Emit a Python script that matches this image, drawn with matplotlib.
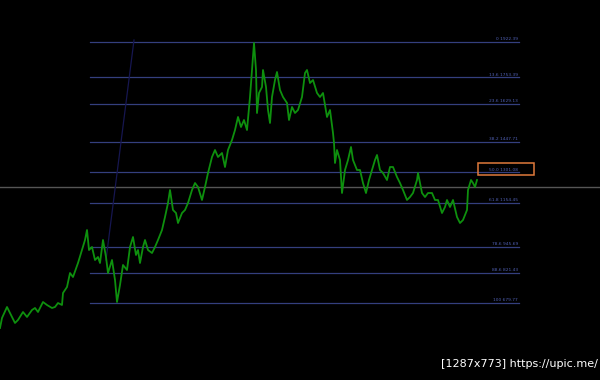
import matplotlib
matplotlib.use("Agg")
import matplotlib.pyplot as plt
from matplotlib.patches import Rectangle

# price series (bar index, close)
bars = [0, 2, 7, 10, 15, 18, 23, 27, 32, 35, 38, 43, 47, 52, 55, 58, 62, 63, 67, 70,
        73, 78, 82, 85, 87, 89, 92, 95, 98, 100, 103, 106, 108, 112, 115, 117, 120, 123, 127, 130,
        133, 136, 138, 140, 143, 145, 148, 152, 155, 158, 162, 165, 168, 170, 173, 176, 178, 182, 185, 188,
        192, 195, 198, 202, 205, 208, 212, 215, 218, 222, 225, 228, 232, 235, 238, 241, 244, 247, 250, 253,
        254, 256, 257, 259, 262, 263, 266, 268, 270, 272, 275, 277, 280, 283, 287, 289, 292, 295, 298, 302,
        305, 307, 310, 313, 317, 320, 323, 327, 330, 333, 334, 335, 337, 340, 342, 345, 348, 351, 353, 357,
        360, 363, 366, 369, 372, 375, 377, 380, 383, 387, 390, 393, 397, 400, 403, 407, 410, 413, 417, 418,
        422, 425, 428, 432, 435, 438, 442, 445, 447, 450, 453, 457, 460, 463, 467, 468, 471, 473, 475, 477]
prices = [559.2, 606.8, 659.3, 630.7, 583.1, 597.4, 635.5, 611.7, 645.0, 654.5, 635.5, 683.1, 668.8, 654.5, 659.3, 678.3, 668.8, 726.0, 754.6, 821.3,
          802.2, 869.0, 930.9, 978.6, 1026.3, 930.9, 945.2, 883.3, 897.6, 869.0, 978.6, 897.6, 821.3, 883.3, 787.9, 683.1, 764.1, 859.5, 835.6, 945.2,
          992.9, 907.1, 930.9, 869.0, 945.2, 978.6, 930.9, 916.6, 945.2, 978.6, 1026.3, 1088.2, 1155.0, 1216.9, 1121.6, 1107.3, 1059.6, 1107.3, 1121.6, 1155.0,
          1216.9, 1250.3, 1231.2, 1169.3, 1231.2, 1298.0, 1374.2, 1407.6, 1374.2, 1393.3, 1326.6, 1407.6, 1455.3, 1502.9, 1565.0, 1517.2, 1550.6, 1502.9, 1660.2, 1850.9,
          1917.6, 1788.9, 1584.0, 1679.3, 1707.9, 1788.9, 1707.9, 1598.3, 1536.3, 1660.2, 1741.3, 1779.4, 1693.6, 1660.2, 1631.7, 1550.6, 1612.6, 1584.0, 1598.3, 1660.2,
          1774.6, 1788.9, 1726.9, 1741.3, 1679.3, 1660.2, 1679.3, 1565.0, 1598.3, 1488.6, 1441.0, 1345.6, 1407.6, 1359.9, 1202.6, 1312.3, 1359.9, 1421.9, 1359.9, 1312.3,
          1312.3, 1250.3, 1202.6, 1264.6, 1312.3, 1359.9, 1383.8, 1312.3, 1298.0, 1264.6, 1326.6, 1326.6, 1278.9, 1250.3, 1216.9, 1169.3, 1183.5, 1202.6, 1264.6, 1298.0,
          1202.6, 1183.5, 1202.6, 1202.6, 1169.3, 1169.3, 1107.3, 1135.9, 1169.3, 1135.9, 1169.3, 1088.2, 1059.6, 1073.9, 1121.6, 1216.9, 1264.6, 1250.3, 1231.2, 1264.6]

# Fibonacci retracement
fib_high = 1922.39
fib_low = 679.77
fib_levels = [0, 13.6, 23.6, 38.2, 50.0, 61.8, 78.6, 88.6, 100]
fib_start, fib_end = 90, 519

# other drawings
hline_price = 1232.7
trend_x = [106, 134]
trend_y = [883.3, 1932.0]
box_x = [478, 534]
box_y = [1288.4, 1345.6]
watermark = "[1287x773] https://upic.me/"

fig = plt.figure(figsize=(6, 3.8), dpi=100, facecolor="black")
ax = fig.add_axes([0, 0, 1, 1])
ax.set_facecolor("black")
ax.set_xlim(0, 600)
ax.set_ylim(311.31, 2122.58)
ax.axis("off")

# horizontal gray line
ax.axhline(hline_price, color="#555555", lw=1.0, zorder=1)

# fib lines
for lv in fib_levels:
    p = fib_high - lv / 100 * (fib_high - fib_low)
    ax.plot([fib_start, fib_end], [p, p], color="#343f7e", lw=0.9, zorder=1)
    lab = ("%g" % lv if lv in (0, 100) else "%.1f" % lv) + " %.2f" % p
    ax.text(fib_end - 1, p + 4, lab, color="#5060b4", fontsize=3.2,
            ha="right", va="bottom", zorder=3)

# trend line
ax.plot(trend_x, trend_y, color="#161650", lw=0.9, zorder=1)

# price
ax.plot(bars, prices, color="#0e900e", lw=1.3, zorder=2)

# box
ax.add_patch(Rectangle((box_x[0], box_y[0]), box_x[1] - box_x[0], box_y[1] - box_y[0],
                       fill=False, edgecolor="#e07a3c", lw=1.1, zorder=4))

fig.text(0.997, 0.03, watermark, color="white", fontsize=8, ha="right", va="bottom")

fig.savefig("out.png", dpi=100, facecolor="black")
